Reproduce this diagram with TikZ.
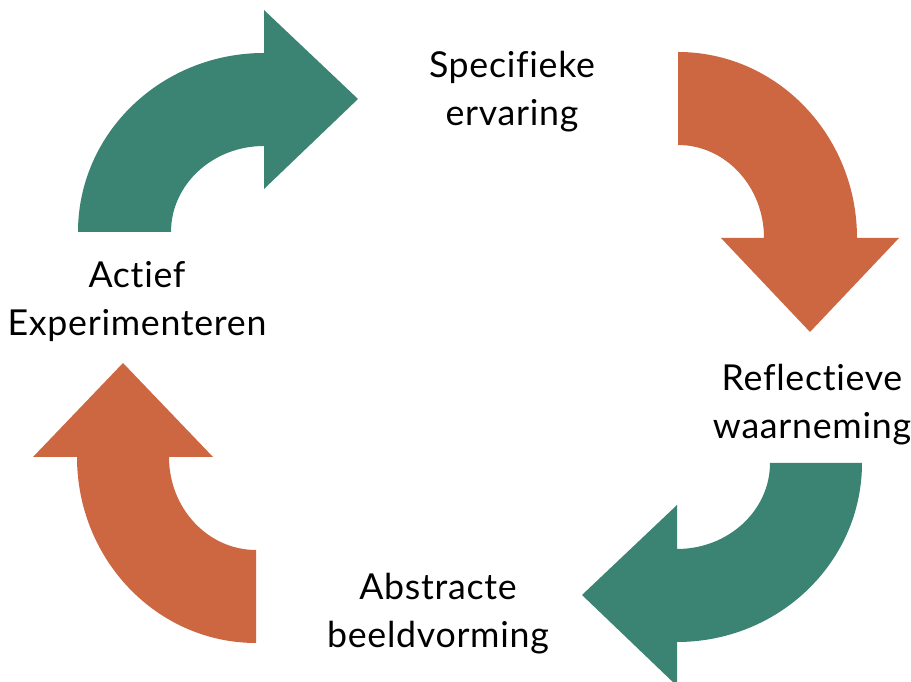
\documentclass[tikz,border=0pt]{standalone}
\usepackage{fontspec}
\setmainfont{Lato}[Ligatures=NoCommon, LetterSpace=2]
\usetikzlibrary{positioning}
\definecolor{cyclegreen}{RGB}{59,132,116}
\definecolor{cycleorange}{RGB}{204,103,66}

\begin{document}
\begin{tikzpicture}[x=0.03cm, y=0.03cm,
        stage/.style={align=center, font=\fontsize{30.5}{41}\selectfont, text=black}]
                \useasboundingbox (0,0) rectangle (911,682);

                % draw the four curved arrows
                \fill[cyclegreen] (78,450) arc[start angle=180, end angle=90, x radius=186, y radius=179]
                    -- (264,672) -- (358,583) -- (264,493) -- (264,536)
                    arc[start angle=90, end angle=180, x radius=93, y radius=86] -- cycle;
                \fill[cycleorange] (678,630) arc[start angle=90, end angle=0, x radius=179, y radius=186]
                    -- (899,444) -- (810,350) -- (721,444) -- (764,444)
                    arc[start angle=0, end angle=90, x radius=86, y radius=93] -- cycle;
                \fill[cyclegreen] (862,219) arc[start angle=0, end angle=-90, x radius=185, y radius=179]
                    -- (677,-4) -- (582,87) -- (677,177) -- (677,133)
                    arc[start angle=-90, end angle=0, x radius=93, y radius=86] -- cycle;
                \fill[cycleorange] (256,39) arc[start angle=-90, end angle=-180, x radius=179, y radius=186]
                    -- (33,225) -- (123,319) -- (213,225) -- (169,225)
                    arc[start angle=180, end angle=270, x radius=87, y radius=93] -- cycle;

                % draw the labels
                \node[stage] (specifiek) at (512,590) {Specifieke\\ervaring};
                \node[stage] (reflectie) at (812,277) {Reflectieve\\waarneming};
                \node[stage] (abstract) at (438,68) {Abstracte\\beeldvorming};
                \node[stage] (actief) at (137,380) {Actief\\Experimenteren};

            \end{tikzpicture}
\end{document}
